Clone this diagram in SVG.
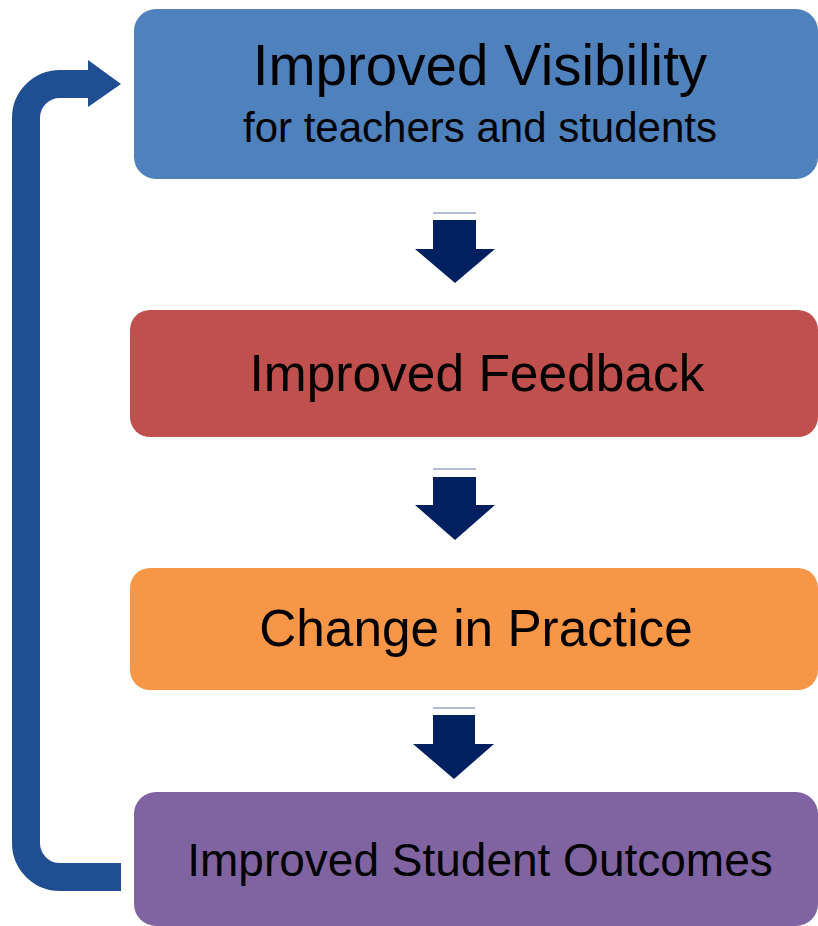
<svg xmlns="http://www.w3.org/2000/svg" width="818" height="926" viewBox="0 0 818 926">
<style>
text{font-family:"Liberation Sans",Arial,sans-serif;fill:#000;text-anchor:middle}
.down{fill:#002060}
.cap{stroke:#9aa6c4;stroke-width:1.5}
</style>
<rect width="818" height="926" fill="#fff"/>
<g id="connectors">
<g id="down1"><line class="cap" x1="433" y1="213" x2="476" y2="213"/><polygon class="down" points="433,220 476,220 476,249 495,249 455,283 415,249 433,249"/></g>
<g id="down2"><line class="cap" x1="433" y1="469" x2="476" y2="469"/><polygon class="down" points="433,477 476,477 476,505 495,505 455,540 415,505 433,505"/></g>
<g id="down3"><line class="cap" x1="433" y1="708" x2="475" y2="708"/><polygon class="down" points="433,715 475,715 475,744 494,744 454,779 413,744 433,744"/></g>
<g id="loop"><path d="M121,877 H60 A34,34 0 0 1 26,843 V118 A34,34 0 0 1 60,84 H90" fill="none" stroke="#1F4E92" stroke-width="28"/><polygon points="88,60 121,84 88,107" fill="#1F4E92"/></g>
</g>
<g id="n1"><rect x="134" y="9" width="684" height="170" rx="22" fill="#4F81BD"/><text x="480" y="85" font-size="56.5">Improved Visibility</text><text x="480" y="142" font-size="42">for teachers and students</text></g>
<g id="n2"><rect x="130" y="310" width="688" height="127" rx="20" fill="#C0504D"/><text x="477" y="391" font-size="51.5">Improved Feedback</text></g>
<g id="n3"><rect x="130" y="568" width="688" height="122" rx="20" fill="#F79646"/><text x="476" y="646" font-size="51.3">Change in Practice</text></g>
<g id="n4"><rect x="134" y="792" width="684" height="134" rx="22" fill="#8064A2"/><text x="480" y="876" font-size="46">Improved Student Outcomes</text></g>
</svg>
